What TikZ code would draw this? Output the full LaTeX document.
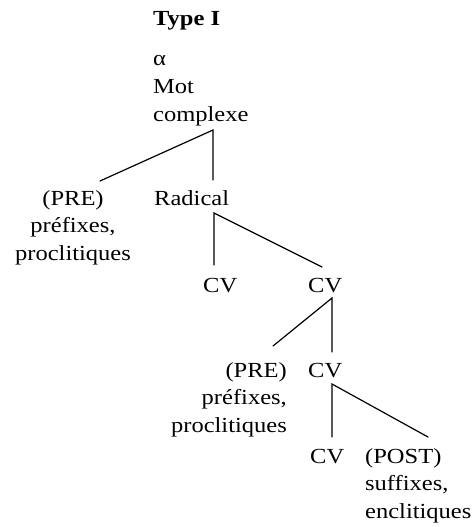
\documentclass[tikz,border=0pt]{standalone}
\usepackage{fontspec}
\setmainfont[FakeStretch=1.14]{Liberation Serif}
\begin{document}
\begin{tikzpicture}[x=1pt, y=-1pt,
  word/.style={inner sep=0pt, font=\fontsize{21.5}{27.5}\selectfont},
  branch/.style={line width=1.2pt, line cap=round}]
\useasboundingbox (0,0) rectangle (474,527);
% Title and root (multi-line nodes sit on their last baseline)
\node[word, font=\fontsize{21.5}{27.5}\selectfont\bfseries, anchor=base west] (title) at (153,26) {Type I};
\node[word, align=left, anchor=base west] (root) at (153,121) {α\\Mot\\complexe};
% Level 1
\node[word, align=center, anchor=base] (pre1) at (73,260) {(PRE)\\préfixes,\\proclitiques};
\node[word, anchor=base west] (radical) at (154,205) {Radical};
% Level 2
\node[word, anchor=base west] (cv1) at (203,292) {CV};
\node[word, anchor=base west] (cv2) at (308,292) {CV};
% Level 3
\node[word, align=right, anchor=base east] (pre2) at (287,432) {(PRE)\\préfixes,\\proclitiques};
\node[word, anchor=base west] (cv3) at (308,377) {CV};
% Level 4
\node[word, anchor=base west] (cv4) at (310,463) {CV};
\node[word, align=left, anchor=base west] (post) at (365,518) {(POST)\\suffixes,\\enclitiques};
% Branch points
\coordinate (rootfoot) at (213,130);
\coordinate (pre1top) at (100,181);
\coordinate (radicaltop) at (213,180);
\coordinate (radicalfoot) at (214,213);
\coordinate (cv1top) at (214,265);
\coordinate (cv2top) at (322,267);
\coordinate (cv2foot) at (332,298);
\coordinate (pre2top) at (273,346);
\coordinate (cv3top) at (332,352);
\coordinate (cv3foot) at (332,384);
\coordinate (cv4top) at (332,437);
\coordinate (posttop) at (428,437);
% Branches
\draw[branch] (pre1top) -- (rootfoot) -- (radicaltop);
\draw[branch] (cv1top) -- (radicalfoot) -- (cv2top);
\draw[branch] (pre2top) -- (cv2foot) -- (cv3top);
\draw[branch] (cv4top) -- (cv3foot) -- (posttop);
\end{tikzpicture}
\end{document}
